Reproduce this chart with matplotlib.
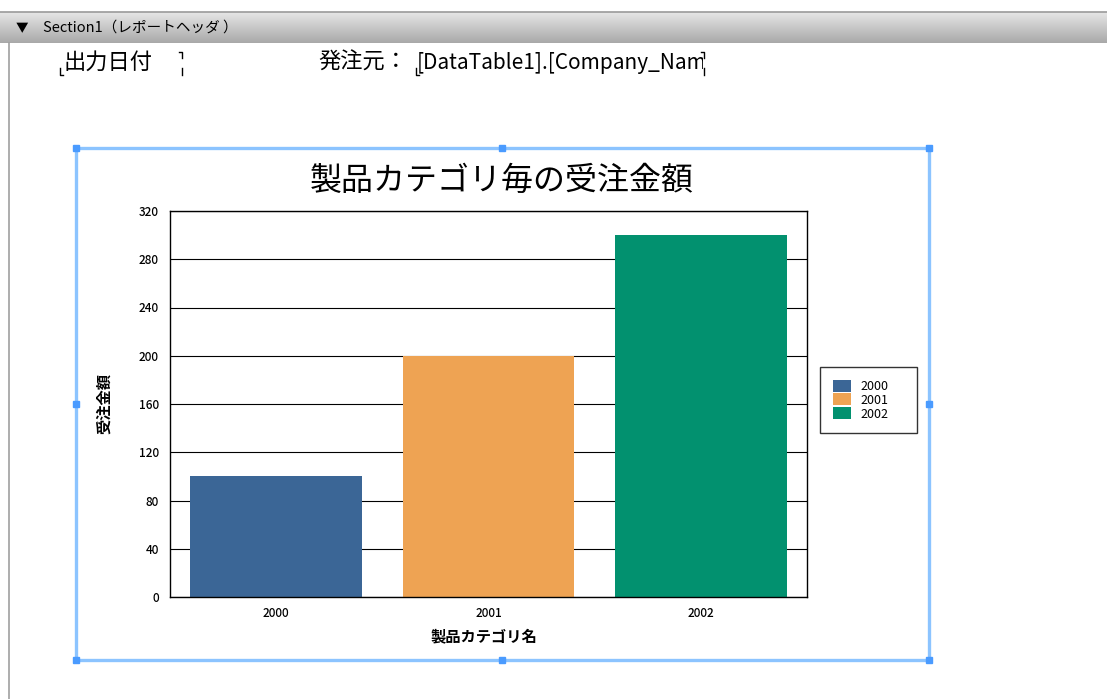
import numpy as np
import matplotlib
matplotlib.use("Agg")
import matplotlib.pyplot as plt
from matplotlib.patches import Rectangle
from matplotlib.transforms import Bbox, TransformedBbox

plt.rcParams['font.family'] = ['Noto Sans CJK JP', 'DejaVu Sans']

# ---------------------------------------------------------------
# Chart data
# ---------------------------------------------------------------
categories = ["2000", "2001", "2002"]
amounts = [100, 200, 300]
bar_colors = ["#3b6696", "#eea353", "#02916f"]
y_ticks = [0, 40, 80, 120, 160, 200, 240, 280, 320]

chart_title = "製品カテゴリ毎の受注金額"
x_title = "製品カテゴリ名"
y_title = "受注金額"

W, H = 1107, 699
fig = plt.figure(figsize=(W / 100, H / 100), dpi=100)

# Background "report designer" layer in pixel coordinates
bg = fig.add_axes([0, 0, 1, 1])
grad = np.linspace(0, 1, 40).reshape(-1, 1)
bg.imshow(grad, extent=[0, W, 43, 12], cmap=matplotlib.colors.LinearSegmentedColormap.from_list(
    "hdr", ["#e6e6e6", "#a9a9a9"]), aspect="auto")
bg.plot([0, W], [11.5, 11.5], color="#9a9a9a", lw=1.2)
bg.plot([8.5, 8.5], [43, H], color="#a0a0a0", lw=1.2)
bg.text(16, 29, "▼", fontsize=9, va="center", ha="left", color="black")
bg.text(43, 28, "Section1（レポートヘッダ ）", fontsize=10.5, va="center", ha="left")

bg.text(63, 62, "出力日付", fontsize=16, va="center", ha="left")
bg.text(318, 62, "発注元：", fontsize=16, va="center", ha="left")
t = bg.text(417, 63, "[DataTable1].[Company_Name]", fontsize=15, va="center", ha="left",
            clip_on=True)
t.set_clip_box(TransformedBbox(Bbox([[417, 45], [703, 85]]), bg.transData))
# field box corner marks
for (x0, x1) in [(60, 182), (416, 704)]:
    bg.plot([x0, x0, x0 + 3], [68, 75, 75], color="black", lw=1)
    bg.plot([x1 - 3, x1, x1], [52, 52, 58], color="black", lw=1)
    bg.plot([x1, x1], [68, 75], color="black", lw=1)

# selection frame of chart control
sel = Rectangle((76, 148), 853, 512, fill=False, edgecolor="#8cc4ff", lw=2.4)
bg.add_patch(sel)
for hx in [76, 502, 929]:
    for hy in [148, 404, 660]:
        if hx == 502 and hy == 404:
            continue
        bg.add_patch(Rectangle((hx - 3, hy - 3), 6, 6, color="#4a9bff"))

bg.set_xlim(0, W)
bg.set_ylim(H, 0)
bg.axis("off")

# ---------------------------------------------------------------
# Bar chart
# ---------------------------------------------------------------
ax = fig.add_axes([170 / W, 1 - 597 / H, 637 / W, 386 / H])
x = np.arange(len(categories))
bars = ax.bar(x, amounts, width=0.81, color=bar_colors, zorder=2)
ax.set_xlim(-0.5, len(categories) - 0.5)
ax.set_ylim(0, 320)
ax.set_yticks(y_ticks)
ax.set_xticks(x)
ax.set_xticklabels(categories)
ax.tick_params(length=0, labelsize=8.5)
ax.tick_params(axis="y", pad=8)
ax.tick_params(axis="x", pad=7)
for lab in ax.get_xticklabels() + ax.get_yticklabels():
    lab.set_fontweight("medium")
ax.set_axisbelow(True)
ax.grid(axis="y", color="black", lw=0.8)
for s in ax.spines.values():
    s.set_color("black")
    s.set_linewidth(1.0)

fig.text(502 / W, 1 - 181 / H, chart_title, fontsize=23, ha="center", va="center")
fig.text(104 / W, 1 - 404 / H, y_title, fontsize=11, fontweight="bold",
         rotation=90, ha="center", va="center")
fig.text(484 / W, 1 - 636 / H, x_title, fontsize=11, fontweight="bold",
         ha="center", va="center")

leg = ax.legend(bars, categories, loc="upper left", mode="expand",
                bbox_to_anchor=(820 / W, 1 - 367 / H, 97 / W, 0),
                bbox_transform=fig.transFigure,
                borderaxespad=0, fontsize=9, fancybox=False, shadow=False,
                handlelength=1.5, handleheight=1.1, labelspacing=0.05,
                handletextpad=0.7, borderpad=1.0)
leg.get_frame().set_edgecolor("black")
leg.get_frame().set_linewidth(1.0)

fig.savefig("out.png", dpi=100)
